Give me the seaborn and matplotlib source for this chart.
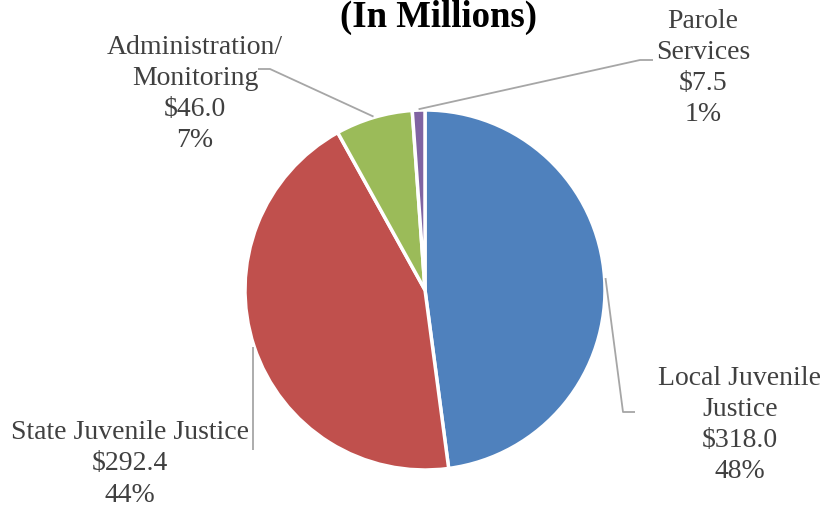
import numpy as np
import seaborn as sns
import matplotlib
matplotlib.use('Agg')
import matplotlib.pyplot as plt

# budget by program, in millions
programs = ['Local Juvenile\nJustice', 'State Juvenile Justice',
            'Administration/\nMonitoring', 'Parole\nServices']
amounts = [318.0, 292.4, 46.0, 7.5]
colors = ['#4F81BD', '#C0504D', '#9BBB59', '#8064A2']

sns.set_theme(style='white')
plt.rcParams['font.family'] = ['Liberation Serif', 'DejaVu Serif']

W, H = 825, 508
CX, CY, R = 425, 290, 180


def px(x, y):
    # pixel position -> data coords (pie radius = 1)
    return (x - CX) / R, (CY - y) / R


fig = plt.figure(figsize=(W / 100, H / 100), dpi=100)
ax = fig.add_axes([0, 0, 1, 1])
wedges, _ = ax.pie(amounts, colors=colors, startangle=90, counterclock=False,
                   radius=1, center=(0, 0),
                   wedgeprops=dict(edgecolor='white', linewidth=2.5))
x0, y0 = px(0, H)
x1, y1 = px(W, 0)
ax.set_xlim(x0, x1)
ax.set_ylim(y0, y1)
ax.set_aspect('equal')
ax.axis('off')

total = sum(amounts)
# label block centre and leader elbow points (pixels)
label_pos = [(740, 425), (130, 464), (195, 94), (703, 68)]
elbows = [[(623, 412), (635, 412)],
          [(252, 450)],
          [(270, 69), (258, 69)],
          [(640, 60), (653, 60)]]

for w, name, amt, pos, elb in zip(wedges, programs, amounts, label_pos, elbows):
    mid = np.deg2rad((w.theta1 + w.theta2) / 2)
    ax_, ay_ = np.cos(mid) * 1.005, np.sin(mid) * 1.005
    pts = [(ax_, ay_)]
    for p in elb:
        q = px(*p)
        if name.startswith('State'):
            q = (ax_, q[1])
        pts.append(q)
    xs, ys = zip(*pts)
    ax.plot(xs, ys, color='#A6A6A6', lw=1.3, solid_capstyle='butt')
    pct = amt / total * 100
    tx, ty = px(*pos)
    ax.text(tx, ty, f'{name}\n${amt:.1f}\n{pct:.0f}%', ha='center', va='center',
            fontsize=20, color='#404040', linespacing=1.33)

tx, ty = px(439, 27)
ax.text(tx, ty, '(In Millions)', ha='center', va='baseline',
        fontsize=26.5, fontweight='bold', color='black')

fig.savefig('out.png', dpi=100)
